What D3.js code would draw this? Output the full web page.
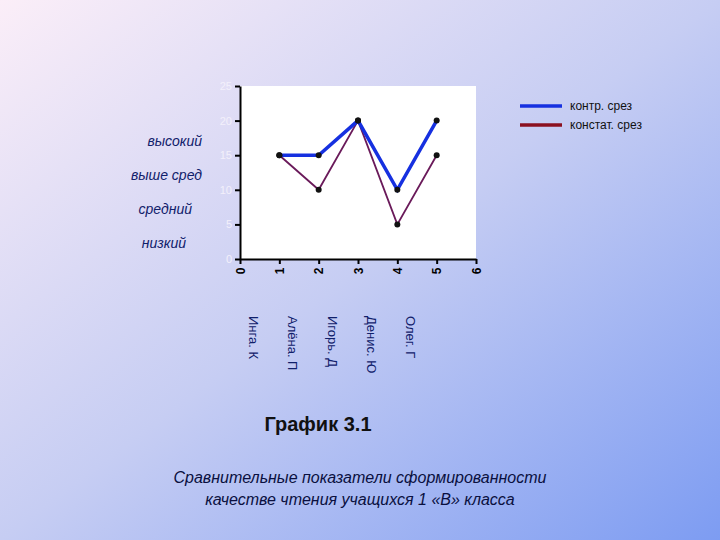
<!DOCTYPE html>
<html><head><meta charset="utf-8">
<script src="https://cdn.jsdelivr.net/npm/d3@7"></script>
<style>body{margin:0}svg{display:block}</style>
</head><body>
<script>
const pupils = ['Инга. К', 'Алёна. П', 'Игорь. Д', 'Денис. Ю', 'Олег. Г'];
const xs = [1, 2, 3, 4, 5];
const kontr = [15, 15, 20, 10, 20];
const konstat = [15, 10, 20, 5, 15];
const yTicks = [0, 5, 10, 15, 20, 25];
const levels = ['высокий', 'выше сред', 'средний', 'низкий'];

const W = 720, H = 540;
const svg = d3.select('body').append('svg').attr('width', W).attr('height', H);
const defs = svg.append('defs');
const g = defs.append('linearGradient').attr('id', 'bg')
  .attr('x1', 0).attr('y1', 0).attr('x2', 1).attr('y2', 1);
g.append('stop').attr('offset', 0).attr('stop-color', '#fbeef8');
g.append('stop').attr('offset', 0.5).attr('stop-color', '#c6cdf3');
g.append('stop').attr('offset', 1).attr('stop-color', '#7d9cf2');
svg.append('rect').attr('width', W).attr('height', H).attr('fill', 'url(#bg)');

const x = d3.scaleLinear().domain([0, 6]).range([240, 476]);
const y = d3.scaleLinear().domain([0, 25]).range([259, 86]);

svg.append('rect').attr('x', 240).attr('y', 86).attr('width', 236).attr('height', 173).attr('fill', '#fff');

const ya = svg.append('g').attr('transform', 'translate(240,0)')
  .call(d3.axisLeft(y).tickValues(yTicks).tickSize(5).tickSizeOuter(0));
ya.select('.domain').attr('stroke', '#000').attr('stroke-width', 2);
ya.selectAll('line').attr('stroke', '#000').attr('stroke-width', 2);
ya.selectAll('text').attr('fill', '#f3f0fb').attr('font-size', 11).attr('font-family', 'Arial');

const xa = svg.append('g').attr('transform', 'translate(0,259)')
  .call(d3.axisBottom(x).ticks(6).tickSize(5).tickSizeOuter(0));
xa.select('.domain').attr('stroke', '#000').attr('stroke-width', 2);
xa.selectAll('line').attr('stroke', '#000').attr('stroke-width', 2);
xa.selectAll('text').attr('font-size', 12).attr('font-weight', 'bold').attr('font-family', 'Arial')
  .attr('text-anchor', 'middle').attr('dy', 0)
  .attr('transform', 'translate(0,12) rotate(-90)').attr('x', 0).attr('y', 4);

const line = d3.line().x((d, i) => x(xs[i])).y(d => y(d));
svg.append('path').datum(konstat).attr('d', line).attr('fill', 'none')
  .attr('stroke', '#6a1a5a').attr('stroke-width', 1.8);
svg.append('path').datum(kontr).attr('d', line).attr('fill', 'none')
  .attr('stroke', '#1630e0').attr('stroke-width', 3.5);
[kontr, konstat].forEach(s => svg.selectAll(null).data(s).enter().append('circle')
  .attr('cx', (d, i) => x(xs[i])).attr('cy', d => y(d)).attr('r', 3).attr('fill', '#111'));

const legend = [['контр. срез', '#1630e0'], ['констат. срез', '#8b1020']];
legend.forEach((l, i) => {
  svg.append('line').attr('x1', 520).attr('x2', 562).attr('y1', 106 + i * 19).attr('y2', 106 + i * 19)
    .attr('stroke', l[1]).attr('stroke-width', 3.5);
  svg.append('text').attr('x', 570).attr('y', 110 + i * 19).text(l[0])
    .attr('font-size', 12).attr('font-family', 'Arial').attr('fill', '#111');
});

svg.selectAll(null).data(levels).enter().append('text')
  .attr('x', (d, i) => [202, 202, 192, 186][i]).attr('y', (d, i) => 146 + i * 34)
  .attr('text-anchor', 'end').text(d => d)
  .attr('font-size', 14).attr('font-style', 'italic').attr('font-family', 'Arial').attr('fill', '#10206a');

svg.selectAll(null).data(pupils).enter().append('text')
  .attr('transform', (d, i) => `translate(${x(i) + 9},${316}) rotate(90)`)
  .text(d => d).attr('font-size', 13).attr('font-family', 'Arial').attr('fill', '#10206a');

svg.append('text').attr('x', 318).attr('y', 431).attr('text-anchor', 'middle')
  .text('График 3.1').attr('font-size', 20).attr('font-weight', 'bold').attr('font-family', 'Arial').attr('fill', '#111');
['Сравнительные показатели сформированности', 'качестве чтения  учащихся 1 «В» класса'].forEach((t, i) =>
  svg.append('text').attr('x', 360).attr('y', 483 + i * 22).attr('text-anchor', 'middle').text(t)
    .attr('font-size', 16).attr('font-style', 'italic').attr('font-family', 'Arial').attr('fill', '#0a1040'));
</script>
</body></html>
